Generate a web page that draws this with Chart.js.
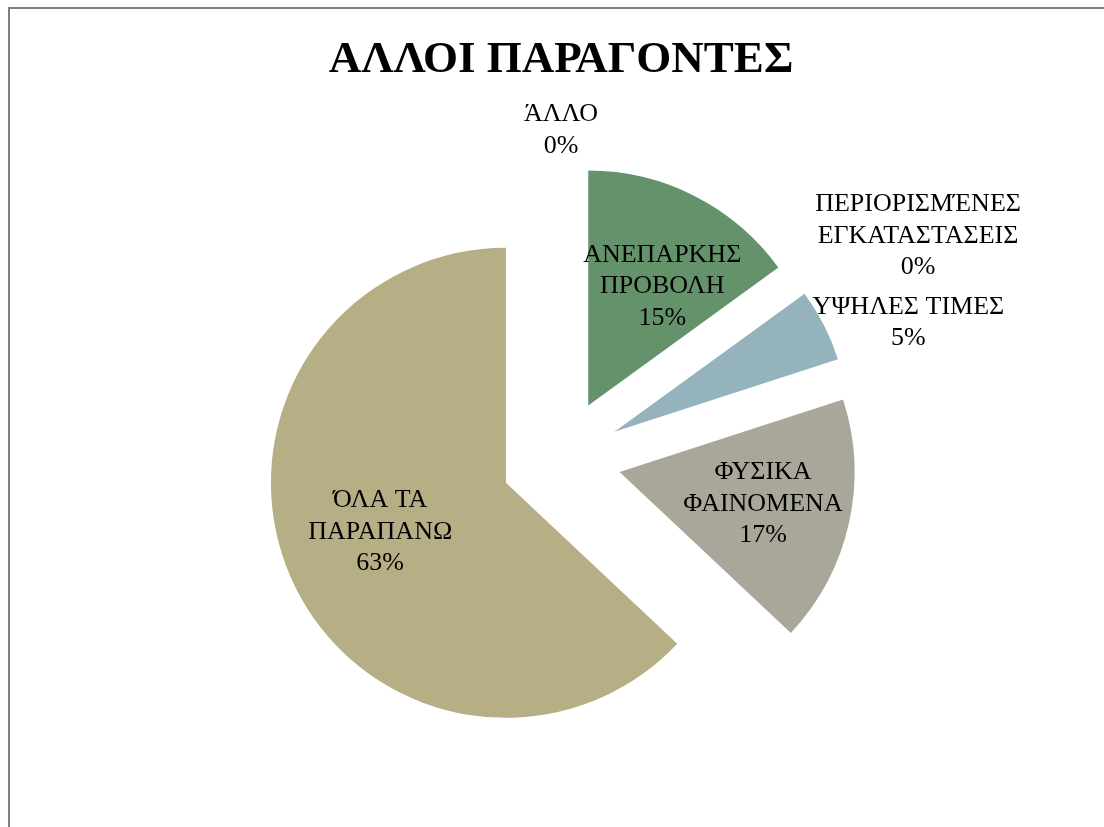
<!DOCTYPE html>
<html>
<head>
<meta charset="utf-8">
<script src="https://cdn.jsdelivr.net/npm/chart.js@4.4.1/dist/chart.umd.min.js"></script>
<style>
  html, body { margin: 0; padding: 0; background: #fff; overflow: hidden; }
  #wrap { position: absolute; left: 0; top: 0; width: 1104px; height: 827px; }
  #frame { position: absolute; left: 8px; top: 7px; width: 1200px; height: 900px;
           border: 2px solid #7f7f7f; pointer-events: none; }
</style>
</head>
<body>
<div id="wrap"><canvas id="chart"></canvas></div>
<div id="frame"></div>
<script>
// Categorías y valores (porcentajes)
const categories = [
    ['ΑΝΕΠΑΡΚΗΣ', 'ΠΡΟΒΟΛΗ'],
    ['ΠΕΡΙΟΡΙΣΜΈΝΕΣ', 'ΕΓΚΑΤΑΣΤΑΣΕΙΣ'],
    ['ΥΨΗΛΕΣ ΤΙΜΕΣ'],
    ['ΦΥΣΙΚΑ', 'ΦΑΙΝΟΜΕΝΑ'],
    ['ΌΛΑ ΤΑ', 'ΠΑΡΑΠΑΝΩ'],
    ['ΆΛΛΟ']
];
const values = [15, 0, 5, 17, 63, 0];
const colors = ['#64926a', '#4f81bd', '#94b3bd', '#a9a799', '#b6ae84', '#c0504d'];

// Colocación de etiquetas: distancia al centro (px) y giro respecto al ángulo medio (grados)
const labelDist = [200, 421, 373, 207, 195, 329];
const labelTurn = [3.4, 4, 5.6, 0, 1.4, 0];

// Separación uniforme de todos los sectores (gráfico "explotado")
const EXPLODE = 60;

function pieCenter(chart) {
    const a = chart.chartArea;
    return { x: (a.left + a.right) / 2, y: (a.top + a.bottom) / 2 };
}

const explodeSlices = {
    id: 'explodeSlices',
    beforeDatasetsDraw(chart) {
        const c = pieCenter(chart);
        chart.getDatasetMeta(0).data.forEach(arc => {
            const mid = (arc.startAngle + arc.endAngle) / 2;
            arc.x = c.x + Math.cos(mid) * EXPLODE;
            arc.y = c.y + Math.sin(mid) * EXPLODE;
        });
    }
};

const sliceLabels = {
    id: 'sliceLabels',
    afterDatasetsDraw(chart) {
        const ctx = chart.ctx;
        const c = pieCenter(chart);
        const total = values.reduce((a, b) => a + b, 0);
        const arcs = chart.getDatasetMeta(0).data;
        ctx.save();
        ctx.font = '26px "Liberation Serif", serif';
        ctx.fillStyle = '#000';
        ctx.textAlign = 'center';
        ctx.textBaseline = 'middle';
        arcs.forEach((arc, i) => {
            const mid = (arc.startAngle + arc.endAngle) / 2 + labelTurn[i] * Math.PI / 180;
            const lx = c.x + Math.cos(mid) * labelDist[i];
            const ly = c.y + Math.sin(mid) * labelDist[i];
            const lines = categories[i].concat([Math.round(values[i] / total * 100) + '%']);
            const lh = 31.5;
            lines.forEach((t, k) => {
                ctx.fillText(t, lx, ly + (k - (lines.length - 1) / 2) * lh);
            });
        });
        ctx.restore();
    }
};

new Chart(document.getElementById('chart').getContext('2d'), {
    type: 'pie',
    data: {
        labels: categories,
        datasets: [{
            data: values,
            backgroundColor: colors,
            borderWidth: 0
        }]
    },
    options: {
        responsive: true,
        maintainAspectRatio: false,
        animation: false,
        radius: 235,
        layout: { padding: { left: 18, right: 0, top: 0, bottom: 0 } },
        plugins: {
            legend: { display: false },
            tooltip: { enabled: false },
            title: {
                display: true,
                text: 'ΑΛΛΟΙ ΠΑΡΑΓΟΝΤΕΣ',
                color: '#000',
                font: { family: '"Liberation Serif", serif', size: 45, weight: 'bold', lineHeight: 1.2 },
                padding: { top: 33, bottom: 4 }
            }
        }
    },
    plugins: [explodeSlices, sliceLabels]
});
</script>
</body>
</html>
